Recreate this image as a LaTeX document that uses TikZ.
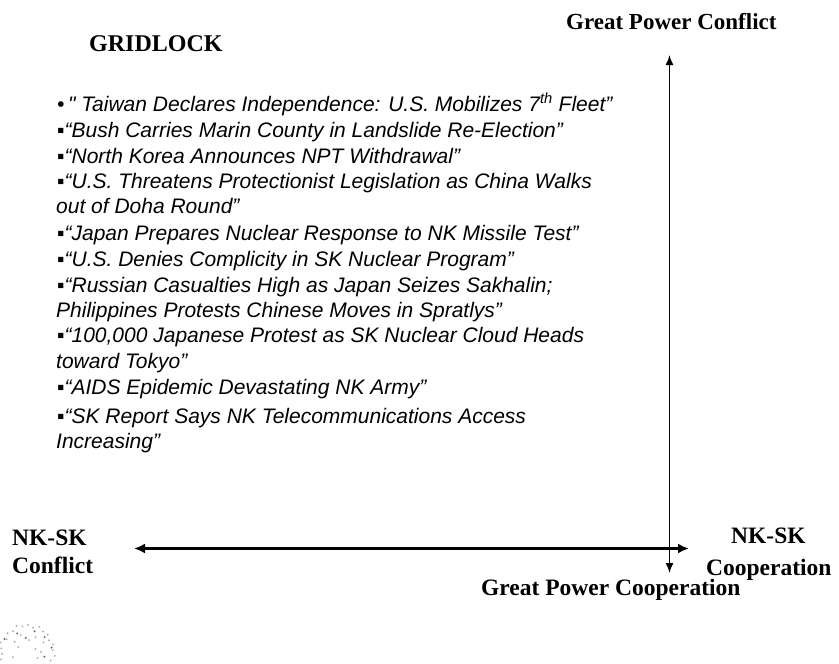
\documentclass[tikz,border=0pt]{standalone}
\usepackage{fontspec}
\setmainfont{Liberation Serif}
\newfontfamily\listfont{Liberation Sans}
\usetikzlibrary{arrows.meta,calc}
\begin{document}
\begin{tikzpicture}[x=1pt,y=-1pt,
  head/.style={font=\bfseries\fontsize{23.5}{26}\selectfont, inner sep=0pt, anchor=base west},
  item/.style={font=\listfont\itshape\fontsize{21}{25}\selectfont, inner sep=0pt, anchor=base west},
  bigarrow/.style={line width=3.2pt, {Latex[length=11pt,width=10pt]}-{Latex[length=11pt,width=10pt]}},
  thinarrow/.style={line width=1.5pt, {Latex[length=10pt,width=8pt]}-{Latex[length=10pt,width=8pt]}},
  speck/.style={fill=black!30, draw=none},
  speckd/.style={fill=black!60, draw=none}]
\useasboundingbox (0,0) rectangle (839,664);
% headings
\node[head, font=\bfseries\fontsize{23}{26}\selectfont] (gpc) at (566,29) {Great Power Conflict};
\node[head, font=\bfseries\fontsize{24}{26}\selectfont] (grid) at (89,51) {GRIDLOCK};
\node[head] (nkc1) at (12,545) {NK-SK};
\node[head] (nkc2) at (12,573) {Conflict};
\node[head] (nko1) at (731,543) {NK-SK};
\node[head] (nko2) at (706,575) {Cooperation};
\node[head] (gpco) at (481,595) {Great Power Cooperation};
% headline list
\def\sb{▪}
\node[item] (l1)  at (57,111) {•\,"\ Taiwan Declares Independence: U.S. Mobilizes 7\textsuperscript{th} Fleet”};
\node[item] (l2)  at (57,137) {\sb“Bush Carries Marin County in Landslide Re-Election”};
\node[item] (l3)  at (57,163) {\sb“North Korea Announces NPT Withdrawal”};
\node[item] (l4)  at (57,188) {\sb“U.S. Threatens Protectionist Legislation as China Walks};
\node[item] (l4b) at (56,213) {out of Doha Round”};
\node[item] (l5)  at (57,240) {\sb“Japan Prepares Nuclear Response to NK Missile Test”};
\node[item] (l6)  at (57,266) {\sb“U.S. Denies Complicity in SK Nuclear Program”};
\node[item] (l7)  at (57,292) {\sb“Russian Casualties High as Japan Seizes Sakhalin;};
\node[item] (l7b) at (56,317) {Philippines Protests Chinese Moves in Spratlys”};
\node[item] (l8)  at (57,342.5) {\sb“100,000 Japanese Protest as SK Nuclear Cloud Heads};
\node[item] (l8b) at (56,368) {toward Tokyo”};
\node[item] (l9)  at (57,394) {\sb“AIDS Epidemic Devastating NK Army”};
\node[item] (l10) at (57,423) {\sb“SK Report Says NK Telecommunications Access};
\node[item] (l10b) at (56,448) {Increasing”};
% axes
\coordinate (vt) at (669.5,55);
\coordinate (vb) at (669.5,573);
\coordinate (hl) at (134,548.5);
\coordinate (hr) at (689,548.5);
\draw[bigarrow] (hl) -- (hr);
\draw[thinarrow] (vb) -- (vt);
% faint logo (speckled seal in the corner)
\coordinate (logo) at (27,652);
\foreach \a/\r in {100/26,112/28,124/25,136/27,148/24,160/28,172/26,184/25,196/27,
  88/27,76/25,64/28,52/26,40/27,28/25,16/27,4/26,-8/28,-20/25,-32/27,
  110/18,140/16,60/17,30/19,0/14,-30/12,150/10,80/12,20/9,200/15,-60/20,-80/24}
  \fill[speck] ($(logo)+(\a:\r pt)$) circle (1.1pt);
\foreach \a/\r in {70/22,118/21,40/23,-15/18,150/26,10/25,95/14,-45/25}
  \fill[speckd] ($(logo)+(\a:\r pt)$) circle (1.1pt);
\end{tikzpicture}
\end{document}
